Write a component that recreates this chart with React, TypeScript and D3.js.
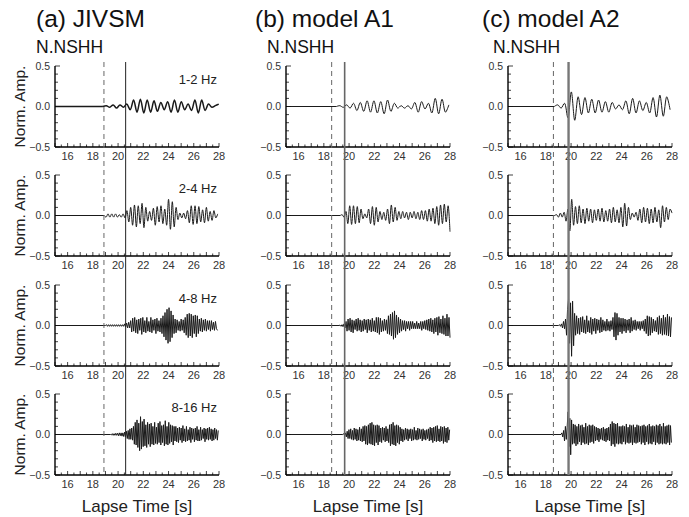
import React from 'react';
import * as d3 from 'd3';

// ---------- data ----------
const columnTitles = ['(a) JIVSM', '(b) model A1', '(c) model A2'];
const stationName = 'N.NSHH';
const bandLabels = ['1-2 Hz', '2-4 Hz', '4-8 Hz', '8-16 Hz'];
const xTickValues = [16, 18, 20, 22, 24, 26, 28];
const yTickValues = [0.5, 0, -0.5];
const yTickLabels = ['0.5', '0.0', '\u22120.5'];
const timeDomain = [15, 28];
const ampDomain = [-0.5, 0.5];
const dashedPick = [18.88, 18.62, 18.6];
const solidPick = [20.6, 19.65, 19.8];
const yAxisTitle = 'Norm. Amp.';
const xAxisTitle = 'Lapse Time [s]';

// sampled traces: start time, sample step (s), normalized amplitudes
const jivsm_1_2 = { t0: 18.8, dt: 0.27, v: [0, .01, -.01, .02, -.02, .02, -.01, .03, -.04, .08, -.07, .09, -.08, .08, -.07, .07, -.06, .05, -.04, .06, -.07, .08, -.07, .06, -.04, .03, -.05, .08, -.08, .08, -.05, .03, -.01, .01, .03] };
const jivsm_2_4 = { t0: 18.9, dt: 0.15, v: [0, -.02, .02, -.02, .02, -.02, .02, -.02, .01, -.02, .02, -.03, .06, -.08, .1, -.12, .13, -.14, .12, -.1, .15, -.15, .1, -.07, .05, -.06, .09, -.12, .11, -.08, .12, -.1, .08, -.12, .2, -.17, .17, -.14, .1, -.05, .03, -.03, .03, -.04, .06, -.09, .12, -.11, .12, -.1, .11, -.08, .07, -.09, .1, -.07, .05, -.06, .06, -.03, .02] };
const jivsm_4_8 = { t0: 19.0, dt: 0.08, v: [0, .01, -.01, .01, -.01, .01, -.01, .01, -.01, .01, -.01, .01, -.01, .01, -.01, .01, -.01, .01, -.01, .02,
  -.02, .03, -.03, .04, -.03,
  .06, -.08, .09, -.07, .1, -.09, .07, -.1, .08, -.06, .09, -.11, .1, -.08, .06, -.09, .1, -.07, .05, -.08, .1, -.09, .07, -.06, .08, -.1, .09, -.07, .06, -.08, .09,
  -.1, .12, -.14, .16, -.18, .2, -.22, .22, -.2, .18, -.15, .13, -.1, .08, -.09, .07,
  -.06, .05, -.07, .08, -.06, .07, -.09, .1,
  -.12, .14, -.15, .15, -.13, .14, -.15, .12, -.1, .13, -.14, .12, -.1, .08, -.07,
  .09, -.08, .07, -.06, .08, -.07, .06, -.05, .06, -.07, .06, -.05, .04, -.06, .05, -.04, -.06] };
const jivsm_8_16 = { t0: 19.4, dt: 0.07, v: [0, -.005, .01, -.01, .01, -.01, .015, -.01, .015, -.015, .02, -.015, .02, -.02, .02, -.025, .03,
  -.03, .04, -.05, .05, -.06, .07, -.06, .08, -.07,
  .1, -.12, .15, -.13, .18, -.16, .14, -.2, .22, -.18, .16, -.15, .19, -.14, .12, -.16, .15, -.12, .13, -.15,
  .14, -.12, .1, -.13, .15, -.11, .09, -.12, .14, -.1, .16, -.13, .11, -.1, .12, -.14, .17, -.12, .1, -.13, .15, -.11, .12, -.09, .11, -.13, .1, -.08, .1,
  -.09, .08, -.1, .09, -.07, .08, -.1, .11, -.08, .07, -.09, .1, -.08, .06, -.07, .09, -.1, .08, -.06, .07, -.09, .08, -.07, .1, -.08, .06, -.08, .09, -.07, .06, -.05, .08, -.09, .07, -.06, .08, -.07, .09, -.06, .07, -.08, .06, -.07, .08, -.05, .06, -.07, .05, -.04] };

const a1_1_2 = { t0: 19.0, dt: 0.27, v: [0, .01, -.01, .02, -.02, .04, -.05, .05, -.06, .07, -.07, .07, -.08, .06, -.09, .08, -.06, .04, -.02, .01, -.02, .01, -.03, .05, -.07, .06, -.03, .04, -.08, .1, -.09, .09, -.07, .02] };
const a1_2_4 = { t0: 19.3, dt: 0.15, v: [0, .01, -.02, .05, -.1, .12, -.11, .12, -.1, .11, -.09, .08, -.04, .02, -.03, .08, -.1, .11, -.12, .1, -.08, .05, -.05, .04, -.06, .08, -.1, .13, -.08, .1, -.06, .05, -.04, .05, -.03, .04, -.05, .04, -.03, .05, -.04, .04, -.05, .06, -.05, .06, -.07, .08, -.07, .09, -.1, .11, -.12, .13, -.1, .14, -.08, .12, -.2] };
const a1_4_8 = { t0: 19.2, dt: 0.08, v: [0, .005, -.01, .01, -.015, .02, -.03,
  .05, -.07, .08, -.06, .09, -.08, .07, -.09, .06, -.05, .08, -.07, .09, -.06, .07, -.08,
  .06, -.07, .08, -.05, .07, -.09, .08, -.06, .07, -.08, .09, -.07, .06, -.08, .1,
  -.09, .1, -.11, .09, -.08, .06, -.07, .08, -.06,
  .07, -.1, .12, -.11, .14, -.13, .16, -.17, .18, -.15, .13, -.11, .1, -.09, .08,
  -.07, .06, -.05, .06, -.07, .05, -.04, .05, -.06, .05, -.04, .05, -.04, .03, -.04, .05, -.04, .03, -.04, .05, -.06, .05, -.04, .06, -.05, .07, -.06,
  .08, -.07, .09, -.08, .07, -.1, .09, -.08, .1, -.12, .11, -.09, .08, -.1, .12, -.11, .09, -.13, .14, -.13, .1, -.15] };
const a1_8_16 = { t0: 19.5, dt: 0.07, v: [0, .01, -.01, .02, -.03,
  .04, -.05, .06, -.05, .07, -.06, .05, -.07, .08, -.06, .07, -.08, .06, -.07, .09, -.08, .07,
  -.09, .1, -.08, .11, -.12, .1, -.13, .12, -.11, .14, -.12, .15, -.13, .12, -.14, .11, -.1, .12, -.13, .11,
  -.09, .08, -.1, .09, -.07, .08, -.09, .1, -.08, .07,
  -.1, .12, -.14, .13, -.12, .15, -.13, .11, -.14, .12, -.1, .11, -.12, .09,
  -.08, .07, -.09, .06, -.07, .08, -.06, .07, -.08, .06, -.05, .07, -.08, .06, -.07, .09, -.06, .05, -.07, .08, -.06, .07, -.05, .06, -.08, .07, -.06, .05, -.07, .06, -.05, .07,
  -.08, .09, -.07, .08, -.1, .09, -.08, .1, -.09, .11, -.08, .07, -.09, .1, -.08, .09, -.11, .1, -.09, .08, -.1, .09, -.07, .06] };

const a2_1_2 = { t0: 18.67, dt: 0.27, v: [0, .02, -.02, .04, -.14, .18, -.17, .12, -.1, .11, -.08, .09, -.08, .08, -.07, .06, -.07, .05, -.03, .02, -.04, .07, -.09, .1, -.08, .07, -.05, .05, -.08, .11, -.13, .14, -.12, .12, -.04] };
const a2_2_4 = { t0: 18.7, dt: 0.15, v: [0, .01, -.02, .03, -.02, .04, -.07, .08, -.19, .2, -.12, .11, -.1, .12, -.09, .08, -.1, .09, -.07, .08, -.09, .07, -.06, .08, -.07, .09, -.08, .06, -.07, .08, -.09, .1, -.08, .07, -.09, .1, -.14, .15, -.13, .1, -.05, .03, -.02, .04, -.06, .08, -.09, .1, -.08, .09, -.1, .08, -.09, .1, -.08, .07, -.15, .12, -.08, .1, -.05, .08, .03] };
const a2_4_8 = { t0: 19.0, dt: 0.08, v: [0, .01, -.01, .02, -.03, .05, -.04, .08, -.12, .2, .33, -.22, .28, -.38, .3, -.25, .15, -.12,
  .12, -.1, .09, -.11, .1, -.08, .11, -.09, .07, -.1, .12, -.08, .06, -.09, .1, -.11, .08, -.07, .09, -.1, .08, -.06, .07, -.09, .1, -.08, .07, -.06, .05, -.07, .08, -.06, .05, -.07, .06, -.05,
  .1, -.14, .16, -.18, .15, -.12, .1, -.08, .09,
  -.1, .09, -.07, .08, -.09, .07, -.06, .08, -.09, .1, -.07, .06, -.05, .07, -.06, .05, -.04, .05, -.06, .05, -.04, .06, -.07, .08,
  -.1, .12, -.13, .11, -.12, .1, -.09, .08, -.07,
  .06, -.08, .1, -.11, .12, -.1, .09, -.12, .13, -.11, .1, -.12, .14, -.13, .11, -.14, .1] };
const a2_8_16 = { t0: 19.2, dt: 0.07, v: [0, .02, -.03, .05, -.08,
  .1, -.06, .09,
  .28, -.15, .2, -.25, .18, -.12,
  .13, -.11, .12, -.14, .1, -.12, .13, -.09, .11, -.13, .12, -.1, .09, -.12, .14, -.11, .1, -.13, .12, -.1, .11, -.09, .12, -.11, .1,
  -.08, .09, -.07, .08, -.09, .07, -.06, .08, -.07, .09, -.08, .07, -.09, .08, -.07, .09, -.08,
  .13, -.14, .16, -.12, .14, -.15, .13, -.11, .14, -.12, .1, -.11,
  .1, -.12, .11, -.09, .1, -.12, .13, -.1, .09, -.11, .12, -.1, .11, -.13, .12, -.1, .09, -.11, .12, -.1, .11, -.09, .1, -.12, .11, -.1, .12, -.13, .1, -.09, .11, -.12, .13, -.11, .1, -.12, .11, -.09, .1, -.13, .12, -.1, .11, -.12, .13, -.11, .1, -.12, .14, -.11, .1, -.12, .11, -.1, .12, -.13, .11, -.1] };

const traces = [
  [jivsm_1_2, jivsm_2_4, jivsm_4_8, jivsm_8_16],
  [a1_1_2, a1_2_4, a1_4_8, a1_8_16],
  [a2_1_2, a2_2_4, a2_4_8, a2_8_16],
];

// ---------- layout ----------
const W = 689, H = 517;
const COL_X = [55, 286, 508];
const PW = 164;
const ROW_Y = [66, 175, 285, 394];
const PH = 81;
const FONT = '"Liberation Sans", Arial, Helvetica, sans-serif';
const LINE_TOP = 62;

const traceWidth = [[1.5, 1, 1, 1], [1, 1, 1, 1], [1, 1, 1, 1]];
const solidStyle = [{ c: '#222', w: 1 }, { c: '#666', w: 1.6 }, { c: '#777', w: 2.4 }];

function Panel({ c, r }: { c: number; r: number }) {
  const x = d3.scaleLinear().domain(timeDomain).range([COL_X[c], COL_X[c] + PW]);
  const y = d3.scaleLinear().domain(ampDomain).range([ROW_Y[r] + PH, ROW_Y[r]]);
  const tr = traces[c][r];
  const pts: [number, number][] = [];
  tr.v.forEach((v, i) => {
    const t = tr.t0 + i * tr.dt;
    if (t <= timeDomain[1] + 1e-6) pts.push([t, v]);
  });
  const line = d3.line<[number, number]>()
    .x(d => x(d[0]))
    .y(d => y(d[1]))
    .curve(r < 2 ? d3.curveCatmullRom.alpha(0.5) : d3.curveLinear);
  const yMinor = d3.range(-5, 6).map(k => k / 10);
  const xMinor = d3.range(30, 57).map(k => k / 2);
  const x0 = COL_X[c], x1 = COL_X[c] + PW, yb = ROW_Y[r] + PH, yt = ROW_Y[r];
  return (
    <g>
      <line x1={x(timeDomain[0])} x2={x(tr.t0)} y1={y(0)} y2={y(0)} stroke="#1a1a1a" strokeWidth={traceWidth[c][r]} />
      <path d={line(pts) || ''} fill="none" stroke="#1a1a1a" strokeWidth={traceWidth[c][r]} strokeLinejoin="round" />
      {yMinor.map(v => (
        <line key={'ym' + v} x1={x0} x2={x0 + (Math.abs(v) % 0.5 < 1e-6 ? 5 : 3)} y1={y(v)} y2={y(v)} stroke="#111" strokeWidth={0.8} />
      ))}
      {xMinor.map(v => (
        <line key={'xm' + v} x1={x(v)} x2={x(v)} y1={yb} y2={yb - (Number.isInteger(v) ? 4 : 2.5)} stroke="#111" strokeWidth={0.8} />
      ))}
      <line x1={x0} x2={x0} y1={yt} y2={yb} stroke="#000" strokeWidth={1.4} />
      <line x1={x0} x2={x1} y1={yb} y2={yb} stroke="#000" strokeWidth={1.4} />
      {yTickValues.map((v, i) => (
        <text key={'yl' + v} x={x0 - 5} y={y(v)} dy="0.35em" textAnchor="end" fontSize={10.5} fill="#333" fontFamily={FONT}>{yTickLabels[i]}</text>
      ))}
      {xTickValues.map(v => (
        <text key={'xl' + v} x={x(v)} y={yb + 13} textAnchor="middle" fontSize={11} fill="#333" fontFamily={FONT}>{v}</text>
      ))}
      {c === 0 && (
        <>
          <text x={x1 - 2} y={yt + 18} textAnchor="end" fontSize={13} fill="#222" fontFamily={FONT}>{bandLabels[r]}</text>
          <text transform={`translate(25,${(yt + yb) / 2}) rotate(-90)`} textAnchor="middle" fontSize={15.5} fill="#222" fontFamily={FONT}>{yAxisTitle}</text>
        </>
      )}
    </g>
  );
}

function Column({ c }: { c: number }) {
  const x = d3.scaleLinear().domain(timeDomain).range([COL_X[c], COL_X[c] + PW]);
  const bottom = ROW_Y[3] + PH;
  const titleX = [36, 255, 482];
  const stationX = [36, 267, 493];
  return (
    <g>
      <text x={titleX[c]} y={27} fontSize={24.5} fill="#111" fontFamily={FONT}>{columnTitles[c]}</text>
      <text x={stationX[c]} y={53} fontSize={17.5} fill="#111" fontFamily={FONT}>{stationName}</text>
      {ROW_Y.map((_, r) => <Panel key={r} c={c} r={r} />)}
      <line x1={x(dashedPick[c])} x2={x(dashedPick[c])} y1={LINE_TOP} y2={bottom} stroke="#666" strokeWidth={1} strokeDasharray="5,4" />
      <line x1={x(solidPick[c])} x2={x(solidPick[c])} y1={LINE_TOP} y2={bottom} stroke={solidStyle[c].c} strokeWidth={solidStyle[c].w} />
      <text x={COL_X[c] + PW / 2} y={512} textAnchor="middle" fontSize={17} fill="#222" fontFamily={FONT}>{xAxisTitle}</text>
    </g>
  );
}

export default function App() {
  return (
    <svg width={W} height={H} viewBox={`0 0 ${W} ${H}`} style={{ position: 'absolute', left: 0, top: 0, background: '#fff' }}>
      <rect x={0} y={0} width={W} height={H} fill="#fff" />
      {[0, 1, 2].map(c => <Column key={c} c={c} />)}
    </svg>
  );
}
